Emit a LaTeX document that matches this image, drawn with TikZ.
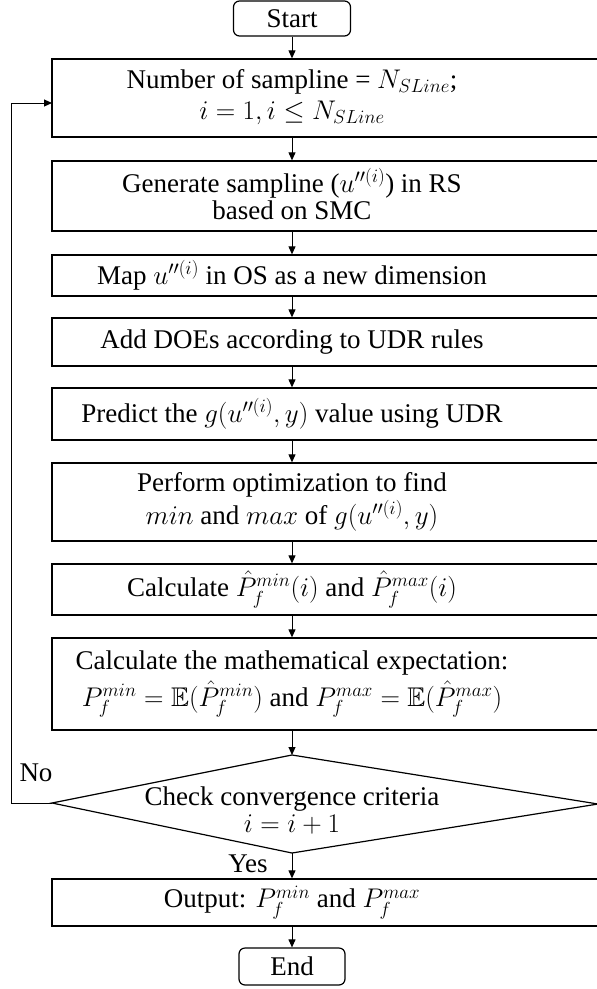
\RequirePackage{fix-cm}
\documentclass[tikz,border=0pt]{standalone}
\usepackage{amsmath,amssymb}
\usepackage{fontspec}
\setmainfont{Liberation Serif}
\usetikzlibrary{arrows.meta,fit}
\begin{document}
\begin{tikzpicture}[x=1pt,y=-1pt,
  box/.style={draw, line width=1.3pt, inner sep=0pt},
  term/.style={draw, line width=1.2pt, rounded corners=6pt, inner sep=0pt},
  txt/.style={align=center, inner sep=0pt, font=\fontsize{27}{33}\selectfont},
  arr/.style={line width=1pt, -{Triangle[length=8pt,width=7pt]}},
  lbl/.style={inner sep=0pt, font=\fontsize{27}{33}\selectfont}]
\useasboundingbox (0,0) rectangle (597,989);
\clip (0,0) rectangle (597,989);
% terminals
\node[term, minimum width=117pt, minimum height=35pt] (start) at (292,18.5) {};
\node[txt] at (start) {Start};
\node[term, minimum width=106pt, minimum height=37pt] (end) at (292,966.5) {};
\node[txt] at (end) {End};
% boxes
\node[box, fit={(52,59)(640,137)}] (b1) {};
\node[box, fit={(52,161)(640,231)}] (b2) {};
\node[box, fit={(52,255)(640,296)}] (b3) {};
\node[box, fit={(52,318)(640,366)}] (b4) {};
\node[box, fit={(52,388)(640,440)}] (b5) {};
\node[box, fit={(52,463)(640,541)}] (b6) {};
\node[box, fit={(52,564)(640,615)}] (b7) {};
\node[box, fit={(52,638)(640,730)}] (b8) {};
\node[box, fit={(52,879)(640,926)}] (b9) {};
% texts
\node[txt] (t1) at (292,97) {Number of sampline = $N_{SLine}$;\\[-2pt] $i=1, i\le N_{SLine}$};
\node[txt] (t2) at (292,194) {Generate sampline ($u''^{(i)}$) in RS\\[-6pt] based on SMC};
\node[txt] (t3) at (292,275.5) {Map $u''^{(i)}$ in OS as a new dimension};
\node[txt] (t4) at (292,342) {Add DOEs according to UDR rules};
\node[txt] (t5) at (292,414) {Predict the $g(u''^{(i)},y)$ value using UDR};
\node[txt] (t6) at (292,502) {Perform optimization to find\\ $min$ and $max$ of $g(u''^{(i)},y)$};
\node[txt] (t7) at (292,589.5) {Calculate $\hat{P}_f^{min}(i)$ and $\hat{P}_f^{max}(i)$};
\node[txt] (t8) at (292,684) {Calculate the mathematical expectation:\\[4pt] $P_f^{min}=\mathbb{E}(\hat{P}_f^{min})$ and $P_f^{max}=\mathbb{E}(\hat{P}_f^{max})$};
\node[txt] (t9) at (292,902.5) {Output: $P_f^{min}$ and $P_f^{max}$};
% diamond
\coordinate (dtop) at (292,755);
\coordinate (dright) at (598,804);
\coordinate (dbot) at (292,853);
\coordinate (dleft) at (52,803);
\draw[line width=1.2pt] (dtop) -- (dright) -- (dbot) -- (dleft) -- cycle;
\node[txt] (td) at (292,810) {Check convergence criteria\\[-6pt] $i=i+1$};
% arrows
\draw[arr] (start.south) -- (start.south |- b1.north);
\draw[arr] (start.south |- b1.south) -- (start.south |- b2.north);
\draw[arr] (start.south |- b2.south) -- (start.south |- b3.north);
\draw[arr] (start.south |- b3.south) -- (start.south |- b4.north);
\draw[arr] (start.south |- b4.south) -- (start.south |- b5.north);
\draw[arr] (start.south |- b5.south) -- (start.south |- b6.north);
\draw[arr] (start.south |- b6.south) -- (start.south |- b7.north);
\draw[arr] (start.south |- b7.south) -- (start.south |- b8.north);
\draw[arr] (start.south |- b8.south) -- (dtop);
\draw[arr] (dbot) -- (start.south |- b9.north);
\draw[arr] (start.south |- b9.south) -- (end.north);
% loop
\coordinate (lc) at (11,803);
\coordinate (lin) at (52,103);
\draw[arr] (dleft) -- (lc) |- (lin);
\node[lbl] (no) at (36,773) {No};
\node[lbl] (yes) at (248,864) {Yes};
\end{tikzpicture}
\end{document}
